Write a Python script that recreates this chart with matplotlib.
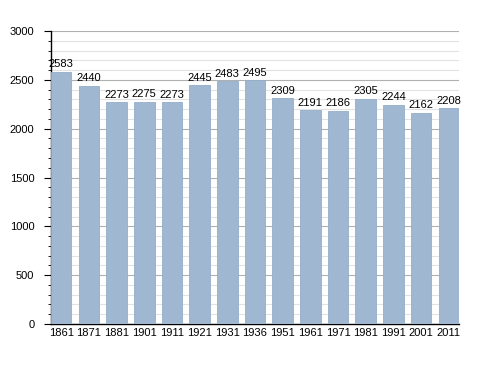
import matplotlib
matplotlib.use('Agg')
import matplotlib.pyplot as plt
from matplotlib.ticker import MultipleLocator

years = ['1861', '1871', '1881', '1901', '1911', '1921', '1931', '1936',
         '1951', '1961', '1971', '1981', '1991', '2001', '2011']
population = [2583, 2440, 2273, 2275, 2273, 2445, 2483, 2495,
              2309, 2191, 2186, 2305, 2244, 2162, 2208]

fig = plt.figure(figsize=(4.88, 3.73), dpi=100)
ax = fig.add_axes([51 / 488, 1 - 324 / 373, 408 / 488, 293 / 373])

x = range(len(years))
w = 0.74
ax.bar(x, population, width=w, color='#a0b7d2', edgecolor='#95acc8', linewidth=0.6, zorder=3)

for i, v in enumerate(population):
    ax.text(i, v + 25, str(v), ha='center', va='bottom', fontsize=8,
            family='Liberation Sans', zorder=4)

ax.set_xlim(-w / 2, len(years) - 1 + w / 2)
ax.set_ylim(0, 3000)
ax.set_xticks(list(x))
ax.set_xticklabels(years, fontsize=8, family='Liberation Sans')
ax.yaxis.set_major_locator(MultipleLocator(500))
ax.yaxis.set_minor_locator(MultipleLocator(100))
ax.tick_params(axis='y', which='major', length=5, labelsize=8, pad=7)
ax.tick_params(axis='y', which='minor', length=2.5)
ax.tick_params(axis='x', length=0, pad=3)
for lab in ax.get_yticklabels():
    lab.set_family('Liberation Sans')

ax.grid(axis='y', which='major', color='#b0b0b0', linewidth=0.8, zorder=0)
ax.grid(axis='y', which='minor', color='#e2e2e2', linewidth=0.8, zorder=0)
for s in ['top', 'right']:
    ax.spines[s].set_visible(False)
ax.spines['left'].set_linewidth(1.0)
ax.spines['bottom'].set_linewidth(1.0)

fig.savefig('out.png', dpi=100)
